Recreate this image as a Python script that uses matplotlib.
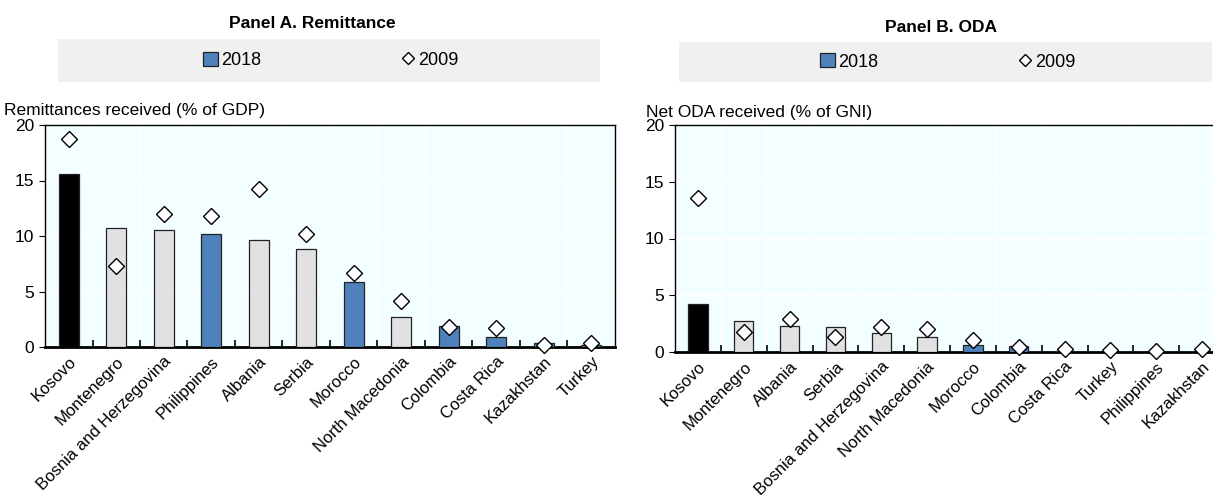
import matplotlib
matplotlib.use("Agg")
import matplotlib.pyplot as plt
from matplotlib.patches import Rectangle, Patch
from matplotlib.lines import Line2D

plt.rcParams['font.family'] = ['Liberation Sans Narrow', 'Liberation Sans', 'DejaVu Sans']

# Panel A: remittances received (% of GDP)
rem_countries = ['Kosovo', 'Montenegro', 'Bosnia and Herzegovina', 'Philippines', 'Albania',
                 'Serbia', 'Morocco', 'North Macedonia', 'Colombia', 'Costa Rica',
                 'Kazakhstan', 'Turkey']
rem_2018 = [15.6, 10.7, 10.5, 10.2, 9.6, 8.8, 5.9, 2.7, 1.9, 0.9, 0.4, 0.15]
rem_2009 = [18.7, 7.3, 12.0, 11.8, 14.2, 10.2, 6.7, 4.1, 1.8, 1.7, 0.2, 0.35]

# Panel B: net ODA received (% of GNI)
oda_countries = ['Kosovo', 'Montenegro', 'Albania', 'Serbia', 'Bosnia and Herzegovina',
                 'North Macedonia', 'Morocco', 'Colombia', 'Costa Rica', 'Turkey',
                 'Philippines', 'Kazakhstan']
oda_2018 = [4.25, 2.75, 2.25, 2.2, 1.7, 1.35, 0.65, 0.5, 0.05, 0.03, 0.02, 0.03]
oda_2009 = [13.6, 1.8, 2.95, 1.35, 2.2, 2.0, 1.1, 0.4, 0.3, 0.15, 0.1, 0.25]

yticks = [0, 5, 10, 15, 20]

BLUE = '#4F81BD'
GREY = '#E1E1E1'
BLACK = '#000000'
western_balkans = {'Montenegro', 'Bosnia and Herzegovina', 'Albania', 'Serbia', 'North Macedonia'}


def bar_color(c):
    if c == 'Kosovo':
        return BLACK
    if c in western_balkans:
        return GREY
    return BLUE


W, H = 1213, 495
fig = plt.figure(figsize=(W / 100, H / 100), dpi=100)


def px_axes(left, top, right, bottom):
    return fig.add_axes([left / W, 1 - bottom / H, (right - left) / W, (bottom - top) / H])


def draw_panel(ax, countries, v2018, v2009):
    x = list(range(len(countries)))
    ax.set_facecolor('#F2FEFF')
    ax.bar(x, v2018, width=0.42, color=[bar_color(c) for c in countries],
           edgecolor='#222222', linewidth=0.9, zorder=3)
    ax.plot(x, v2009, linestyle='none', marker='D', markersize=8,
            markerfacecolor='white', markeredgecolor='black', markeredgewidth=1.0,
            zorder=4, clip_on=False)
    ax.set_xlim(-0.5, len(countries) - 0.5)
    ax.set_ylim(0, 20)
    ax.set_yticks(yticks)
    ax.tick_params(axis='y', labelsize=12.5, length=4, direction='out', width=0.8, pad=4)
    ax.set_xticks(x)
    ax.set_xticklabels(countries, rotation=45, ha='right', rotation_mode='anchor', fontsize=12)
    ax.tick_params(axis='x', length=0, pad=5)
    # boundary ticks between categories
    ax.set_xticks([i + 0.5 for i in x[:-1]], minor=True)
    ax.tick_params(axis='x', which='minor', length=5, direction='in', width=1.2)
    ax.grid(True, which='minor', axis='x', color='white', linewidth=1.2, zorder=0)
    ax.grid(True, which='major', axis='y', color='white', linewidth=1.2, zorder=0)
    for s in ['top', 'right', 'left']:
        ax.spines[s].set_linewidth(1.0)
    ax.spines['bottom'].set_linewidth(2.0)
    ax.set_axisbelow(True)


def legend_band(left, top, right, bottom, title, title_x, title_y, leg_x):
    fig.patches.append(Rectangle((left / W, 1 - bottom / H), (right - left) / W, (bottom - top) / H,
                                 transform=fig.transFigure, facecolor='#F0F0F0',
                                 edgecolor='none', zorder=-1))
    fig.text(title_x / W, 1 - title_y / H, title, ha='center', va='center',
             fontsize=12.5, fontweight='bold')
    handles = [Patch(facecolor=BLUE, edgecolor='#222222', linewidth=0.9),
               Line2D([], [], linestyle='none', marker='D', markersize=6,
                      markerfacecolor='white', markeredgecolor='black')]
    fig.legend(handles, ['2018', '2009'], ncol=2, frameon=False,
               loc='center', bbox_to_anchor=(leg_x / W, 1 - (top + bottom) / 2 / H),
               fontsize=13, columnspacing=7.7, handlelength=0.8, handleheight=0.8,
               handletextpad=0.2, borderpad=0, borderaxespad=0)


axA = px_axes(45, 125, 615, 347)
draw_panel(axA, rem_countries, rem_2018, rem_2009)
fig.text(4 / W, 1 - 110 / H, 'Remittances received (% of GDP)', ha='left', va='center', fontsize=12.5)
legend_band(58, 39, 600, 82, 'Panel A. Remittance', 312, 23, 331)

axB = px_axes(675, 125, 1225, 352)
draw_panel(axB, oda_countries, oda_2018, oda_2009)
fig.text(646 / W, 1 - 112 / H, 'Net ODA received (% of GNI)', ha='left', va='center', fontsize=12.5)
legend_band(679, 42, 1212, 82, 'Panel B. ODA', 941, 27, 948)

fig.savefig('out.png', dpi=100)
